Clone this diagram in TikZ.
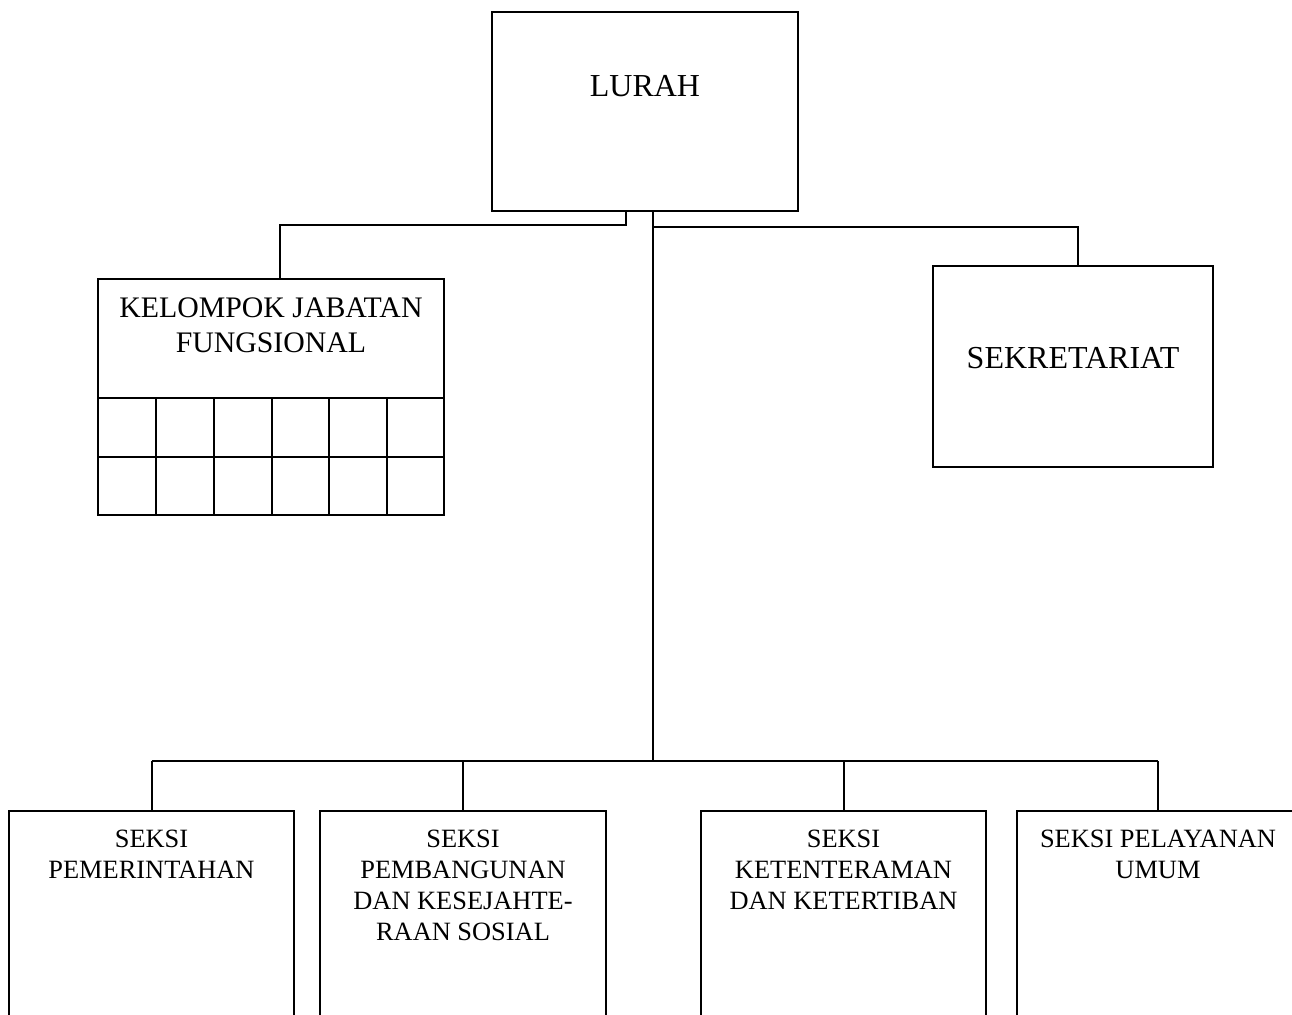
\documentclass[tikz,border=0pt]{standalone}
\usepackage{fontspec}
\setmainfont{Liberation Serif}
\usetikzlibrary{fit}
\begin{document}
\begin{tikzpicture}[x=0.5pt,y=-0.5pt,line width=1pt,
  box/.style={draw,inner sep=0pt},
  bigtxt/.style={anchor=base,font=\fontsize{16}{19}\selectfont},
  midtxt/.style={anchor=base,align=center,font=\fontsize{14.9}{17.5}\selectfont},
  smalltxt/.style={anchor=base,align=center,font=\fontsize{13.2}{15.5}\selectfont}]

  \useasboundingbox[fill=white] (0,0) rectangle (1292,1014);
  \clip (0,0) rectangle (1292,1014);

  % kepala
  \node[box,fit={(492,12) (798,211)}] (lurah) {};
  \node[bigtxt] (lurah-t) at (645,96) {LURAH};

  % kelompok jabatan fungsional
  \node[box,fit={(98,279) (444,515)}] (kjf) {};
  \node[midtxt] (kjf-t) at (271,352) {KELOMPOK JABATAN\\FUNGSIONAL};
  \draw (kjf.west |- 0,398) -- (kjf.east |- 0,398);
  \draw (kjf.west |- 0,457) -- (kjf.east |- 0,457);
  \foreach \x in {156,214,272,329,387}
    \draw (\x,398) -- (\x,515);

  % sekretariat
  \node[box,fit={(933,266) (1213,467)}] (sek) {};
  \node[bigtxt] (sek-t) at (1073,368) {SEKRETARIAT};

  % seksi (base = baris terakhir)
  \node[box,fit={(9,811) (294,1040)}] (pem) {};
  \node[box,fit={(320,811) (606,1040)}] (pemb) {};
  \node[box,fit={(701,811) (986,1040)}] (ket) {};
  \node[box,fit={(1017,811) (1299,1040)}] (pel) {};
  \node[smalltxt] (pem-t) at (pem.north |- 0,878) {SEKSI\\PEMERINTAHAN};
  \node[smalltxt] (pemb-t) at (pemb.north |- 0,940) {SEKSI\\PEMBANGUNAN\\DAN KESEJAHTE-\\RAAN SOSIAL};
  \node[smalltxt] (ket-t) at (ket.north |- 0,909) {SEKSI\\KETENTERAMAN\\DAN KETERTIBAN};
  \node[smalltxt] (pel-t) at (pel.north |- 0,878) {SEKSI PELAYANAN\\UMUM};

  % garis komando
  \coordinate (trunk) at ([xshift=4pt]lurah.south);
  \coordinate (bus) at (653,761);
  \draw (trunk) -- (bus);
  \draw ([xshift=-9.5pt]lurah.south) -- ++(0,13) -| ([xshift=4.5pt]kjf.north);
  \draw (trunk |- 0,227) -| ([xshift=2.5pt]sek.north);
  \draw (pem.north |- bus) -- (pel.north |- bus);
  \foreach \s in {pem,pemb,ket,pel}
    \draw (\s.north |- bus) -- (\s.north);
\end{tikzpicture}
\end{document}
